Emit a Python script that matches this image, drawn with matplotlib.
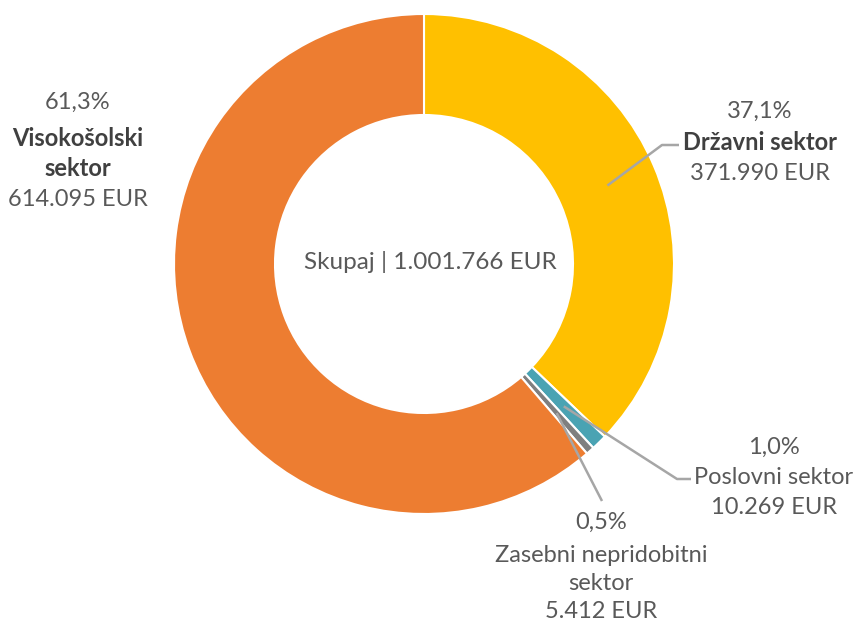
import numpy as np
import matplotlib
matplotlib.use("Agg")
import matplotlib.pyplot as plt

labels = ["Državni sektor", "Poslovni sektor", "Zasebni nepridobitni\nsektor", "Visokošolski\nsektor"]
values = [371990, 10269, 5412, 614095]
amount_text = ["371.990 EUR", "10.269 EUR", "5.412 EUR", "614.095 EUR"]
total_text = "Skupaj | 1.001.766 EUR"
colors = ["#FFC000", "#4AA3B3", "#7F7F7F", "#ED7D31"]
bold = [True, False, False, True]

W, H = 858, 624
fig = plt.figure(figsize=(W / 100, H / 100), dpi=100)
ax = fig.add_axes([0, 0, 1, 1])

cx, cy = 424, H - 264
R = 250
ring = 101

wedges, _ = ax.pie(values, colors=colors, startangle=90, counterclock=False,
                   radius=R, center=(cx, cy), frame=True,
                   wedgeprops=dict(width=ring, edgecolor="white", linewidth=1.5))
ax.set_xlim(0, W)
ax.set_ylim(0, H)
ax.set_aspect("equal")
ax.axis("off")

total = sum(values)
txtc = "#595959"
fam = ["Lato", "DejaVu Sans"]
fs = 17

# label block anchors (pixel coords from top) and leader paths
blocks = [
    dict(x=760, ys=[111, 143, 173], path=[(662, 145), (679, 145)]),
    dict(x=774, ys=[447, 478, 508], path=[(677, 479), (691, 479)]),
    dict(x=601, ys=[522, 555, 583, 612], path=[(602, 501)]),
    dict(x=78, ys=[102, 138, 168, 199], path=None),
]

theta = 90.0
for i, v in enumerate(values):
    frac = v / total
    mid = theta - frac * 360 / 2
    theta -= frac * 360
    pct = f"{frac*100:.1f}%".replace(".", ",")
    lines = [pct] + labels[i].split("\n") + [amount_text[i]]
    b = blocks[i]
    for j, (ln, yy) in enumerate(zip(lines, b["ys"])):
        isname = 0 < j < len(lines) - 1
        ax.text(b["x"], H - yy, ln, ha="center", va="center", fontsize=fs,
                family=fam, color="#404040" if (isname and bold[i]) else txtc,
                fontweight="bold" if (isname and bold[i]) else "normal")
    if b["path"]:
        r0 = R - ring / 2
        sx = cx + r0 * np.cos(np.radians(mid))
        sy = cy + r0 * np.sin(np.radians(mid))
        xs = [sx] + [p[0] for p in b["path"]]
        ys = [sy] + [H - p[1] for p in b["path"]]
        ax.plot(xs, ys, color="#A6A6A6", lw=1.8, solid_capstyle="butt", zorder=5)

ax.text(430, H - 262, total_text, ha="center", va="center", fontsize=17.5,
        family=fam, color=txtc)

fig.savefig("out.png", dpi=100)
